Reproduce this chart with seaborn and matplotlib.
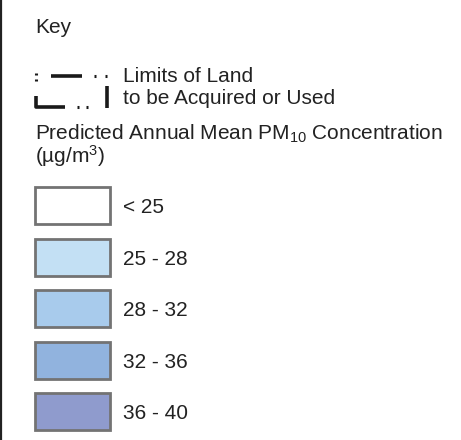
import matplotlib
matplotlib.use("Agg")
import matplotlib.pyplot as plt
import seaborn as sns

sns.set_theme(style="white")
plt.rcParams['font.family'] = ['Liberation Sans', 'DejaVu Sans']
plt.rcParams['mathtext.fontset'] = 'custom'
plt.rcParams['mathtext.rm'] = 'Liberation Sans'
plt.rcParams['mathtext.it'] = 'Liberation Sans'

# Data
categories = ["< 25", "25 - 28", "28 - 32", "32 - 36", "36 - 40"]
fill_colors = ["#ffffff", "#c3e0f4", "#a8cbec", "#91b3de", "#8f9bcd"]
title_text = "Key"
boundary_label = ["Limits of Land", "to be Acquired or Used"]
scale_title = ["Predicted Annual Mean PM$_{\\mathrm{10}}$ Concentration", "(\u00b5g/m$^{\\mathrm{3}}$)"]

W, H = 461, 440
fig = plt.figure(figsize=(W / 100, H / 100), dpi=100)
ax = fig.add_axes([0, 0, 1, 1])
ax.set_xlim(0, W)
ax.set_ylim(H, 0)
ax.axis("off")

txt = "#222222"
fs = 15

# left border
ax.plot([1, 1], [0, H], color="#222222", lw=1.6, solid_capstyle="butt")

ax.text(35, 33, title_text, fontsize=fs, color=txt, va="baseline")

# boundary symbol
lc = "#1a1a1a"
lw = 2.2
ax.plot([35.5, 35.5], [73.5, 75.5], color=lc, lw=lw, solid_capstyle="butt")
ax.plot([35.5, 35.5], [79.5, 81.5], color=lc, lw=lw, solid_capstyle="butt")
ax.plot([51, 82], [76, 76], color=lc, lw=2.6, solid_capstyle="butt")
ax.plot([94, 96], [76, 76], color=lc, lw=lw, solid_capstyle="butt")
ax.plot([105, 107], [76, 76], color=lc, lw=lw, solid_capstyle="butt")
ax.plot([36, 36, 65], [96, 107, 107], color=lc, lw=2.6, solid_capstyle="butt")
ax.plot([77, 79], [107, 107], color=lc, lw=lw, solid_capstyle="butt")
ax.plot([86, 88], [107, 107], color=lc, lw=lw, solid_capstyle="butt")
ax.plot([107, 107], [86, 108], color=lc, lw=2.6, solid_capstyle="butt")

ax.text(123, 82, boundary_label[0], fontsize=fs, color=txt, va="baseline")
ax.text(123, 104, boundary_label[1], fontsize=fs, color=txt, va="baseline")

ax.text(35, 140, scale_title[0], fontsize=fs, color=txt, va="baseline")
ax.text(35, 163, scale_title[1], fontsize=fs, color=txt, va="baseline")

# legend boxes
y0, step = 205.5, 51.6
ys = [y0 + i * step for i in range(len(categories))]
ax.barh(ys, [75] * len(categories), left=34.5, height=37, color=fill_colors,
        edgecolor="#737373", linewidth=2.0)
for y, lab in zip(ys, categories):
    ax.text(123, y, lab, fontsize=fs, color=txt, va="center_baseline")

fig.savefig("out.png", dpi=100, facecolor="white")
